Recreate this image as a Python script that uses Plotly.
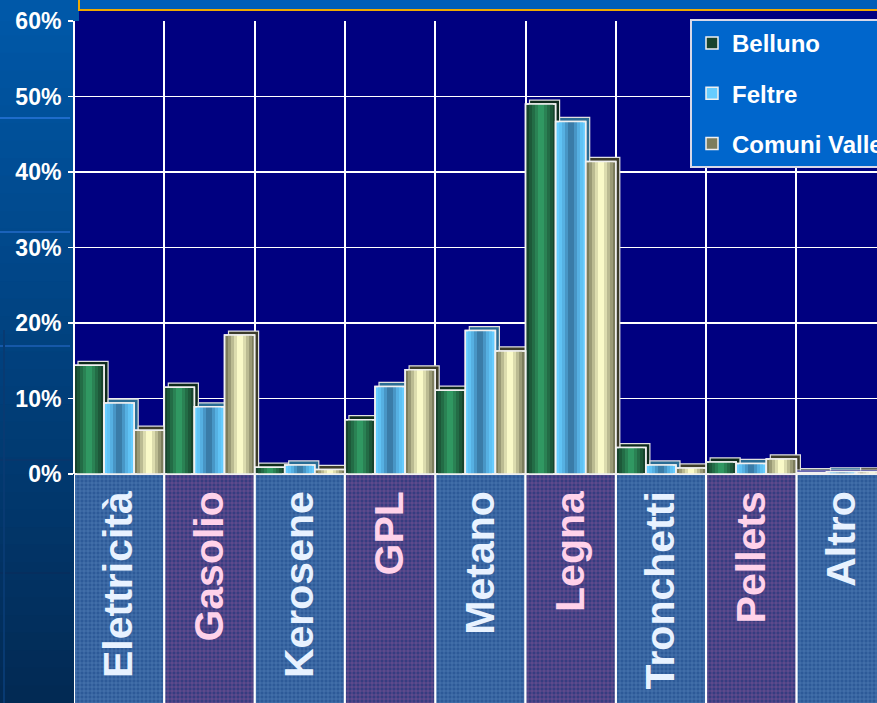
import plotly.graph_objects as go

# ---------------- data ----------------
categories = ["Elettricità", "Gasolio", "Kerosene", "GPL", "Metano",
              "Legna", "Tronchetti", "Pellets", "Altro"]
belluno = [14.4, 11.5, 0.9, 7.2, 11.1, 49.0, 3.5, 1.6, 0.2]
feltre = [9.4, 8.9, 1.2, 11.6, 19.0, 46.7, 1.2, 1.4, 0.3]
comuni = [5.8, 18.4, 0.6, 13.8, 16.3, 41.4, 0.8, 2.0, 0.3]
series_names = ["Belluno", "Feltre", "Comuni Valle"]
y_tick_values = [0, 10, 20, 30, 40, 50, 60]
y_tick_labels = ["0%", "10%", "20%", "30%", "40%", "50%", "60%"]
label_band = ["blue", "pink", "blue", "pink", "blue", "pink", "blue", "pink", "blue"]

# ---------------- geometry / style ----------------
W, H = 877, 703
ML, MT = 74, 21
PLOT_W = W - ML
PLOT_H = H - MT
ZERO_PX = 474
PX_PER_UNIT = (ZERO_PX - MT) / 60.0
Y_MIN = -(H - ZERO_PX) / PX_PER_UNIT
CAT_PX = 90.3
X_MAX = -0.5 + PLOT_W / CAT_PX
FONT = "Liberation Sans, Arial, sans-serif"

series_values = [belluno, feltre, comuni]
gradients = [
    ["#17432D", "#1D5839", "#236C46", "#2A8254", "#309862"],
    ["#66CCFF", "#60C2F4", "#56B0E2", "#4896C6", "#3A7CA8"],
    ["#7C7C5C", "#9A9A76", "#BBBB92", "#DCDCAE", "#FAFAC8"],
]
depth_colors = ["#0E2A1C", "#2A6C94", "#3C3C2A"]
band_colors = {"blue": ("#2D5A98", "#75A2D6", "#E8F2FF"),
               "pink": ("#363C80", "#C46CAC", "#FFD2EA")}

bw = 1.0 / 3.0
dx = 4.0 / CAT_PX
dy = 4.0 / PX_PER_UNIT

fig = go.Figure()

# category label backgrounds (below the zero line)
LABEL_DEPTH = Y_MIN - 1
for band in ["blue", "pink"]:
    bg, fg, _ = band_colors[band]
    xs = [c for c, b in zip(categories, label_band) if b == band]
    fig.add_bar(x=xs, y=[LABEL_DEPTH] * len(xs), width=1.0, offset=-0.5,
                marker=dict(color=bg,
                            pattern=dict(shape="+", fgcolor=fg, bgcolor=bg,
                                         size=4, solidity=0.3),
                            line=dict(color="white", width=2)),
                showlegend=False, hoverinfo="skip")

# 3-D depth of the bars
for i, vals in enumerate(series_values):
    fig.add_bar(x=categories, y=vals, base=dy, width=bw,
                offset=-0.5 + i * bw + dx,
                marker=dict(color=depth_colors[i],
                            line=dict(color="#E0E0E0", width=1.2)),
                showlegend=False, hoverinfo="skip")

# front faces with horizontal gradient
for i, vals in enumerate(series_values):
    left = -0.5 + i * bw
    for k, col in enumerate(gradients[i]):
        w = bw * (1 - 0.2 * k)
        fig.add_bar(x=categories, y=vals, width=w, offset=left + (bw - w) / 2,
                    marker=dict(color=col,
                                line=dict(color="#F0F0F0", width=1.5 if k == 0 else 0)),
                    name=series_names[i], legendgroup=series_names[i],
                    showlegend=(k == 0), hoverinfo="skip")
    fig.add_bar(x=categories, y=vals, width=bw, offset=left,
                marker=dict(color="rgba(0,0,0,0)",
                            line=dict(color="#F0F0F0", width=1.5)),
                showlegend=False, hoverinfo="skip")

# ---------------- decoration shapes ----------------
def ypap(py):
    return (H - py) / PLOT_H

def xpap(px):
    return (px - ML) / PLOT_W

shapes = []
top_rgb = (0, 88, 168)
bot_rgb = (2, 42, 84)
N = 40
for j in range(N):
    t = j / (N - 1)
    c = tuple(int(round(a + (b - a) * t)) for a, b in zip(top_rgb, bot_rgb))
    py0 = j * H / N
    py1 = (j + 1) * H / N + 1
    shapes.append(dict(type="rect", xref="paper", yref="paper",
                       x0=xpap(0), x1=0, y0=ypap(py1), y1=ypap(py0),
                       fillcolor="rgb(%d,%d,%d)" % c, line=dict(width=0),
                       layer="below"))
# top strip
shapes.append(dict(type="rect", xref="paper", yref="paper",
                   x0=xpap(0), x1=xpap(W + 20), y0=ypap(MT), y1=ypap(-2),
                   fillcolor="rgb(0,88,168)", line=dict(width=0), layer="below"))
# faint slide-background lines
for py, col in [(118, "#1E6CCB"), (232, "#1A62BA"), (346, "#1658A8"),
                (460, "#08366C"), (573, "#062E5E")]:
    shapes.append(dict(type="line", xref="paper", yref="paper",
                       x0=xpap(0), x1=xpap(70), y0=ypap(py), y1=ypap(py),
                       line=dict(color=col, width=2), layer="below"))
shapes.append(dict(type="line", xref="paper", yref="paper",
                   x0=xpap(4), x1=xpap(4), y0=ypap(330), y1=ypap(H),
                   line=dict(color="#083A72", width=2), layer="below"))
# navy top of chart wall
shapes.append(dict(type="rect", xref="paper", yref="paper",
                   x0=xpap(79), x1=xpap(W + 20), y0=ypap(MT), y1=ypap(11),
                   fillcolor="#000080", line=dict(width=0), layer="below"))
# title box (cut at top)
shapes.append(dict(type="rect", xref="paper", yref="paper",
                   x0=xpap(79), x1=xpap(W + 40), y0=ypap(10), y1=ypap(-30),
                   fillcolor="#005EB8", line=dict(color="#F0A800", width=2),
                   layer="below"))
# y axis line
shapes.append(dict(type="line", xref="paper", yref="y", x0=0, x1=0,
                   y0=0, y1=60, line=dict(color="white", width=2), layer="above"))

ticktext = ["<span style='color:%s'>%s</span>" % (band_colors[b][2], c)
            for c, b in zip(categories, label_band)]

fig.update_layout(
    width=W, height=H, autosize=False,
    margin=dict(l=ML, r=0, t=MT, b=0, pad=0, autoexpand=False),
    paper_bgcolor="#003F80", plot_bgcolor="#000080",
    barmode="overlay", bargap=0,
    shapes=shapes,
    showlegend=True,
    legend=dict(xref="container", yref="container",
                x=690 / W, y=1 - 19 / H, xanchor="left", yanchor="top",
                bgcolor="#0066CC", bordercolor="#D8D8E8", borderwidth=2,
                font=dict(family=FONT, size=24, color="white", weight="bold"),
                traceorder="grouped", tracegroupgap=16),
    xaxis=dict(type="category", categoryorder="array", categoryarray=categories,
               range=[-0.5, X_MAX], tickmode="array", tickvals=categories,
               ticktext=ticktext, tickangle=-90, tickson="boundaries",
               showgrid=True, gridcolor="white", gridwidth=2, ticks="",
               anchor="free", position=-Y_MIN / (60 - Y_MIN),
               tickfont=dict(family=FONT, size=41, color="white", weight="bold"),
               ticklabelstandoff=8, showline=False, zeroline=False,
               fixedrange=True),
    yaxis=dict(range=[Y_MIN, 60], tickmode="array", tickvals=y_tick_values,
               ticktext=y_tick_labels, ticks="outside", ticklen=5, tickwidth=1.5,
               tickcolor="white", showgrid=True, gridcolor="white",
               gridwidth=1.5, zeroline=True, zerolinecolor="white",
               zerolinewidth=2, showline=False,
               tickfont=dict(family=FONT, size=23, color="white", weight="bold"),
               ticklabelstandoff=2, fixedrange=True),
)

fig.write_html("out.html", config={"displayModeBar": False, "staticPlot": True},
               post_script="document.body.style.margin='0px';")
